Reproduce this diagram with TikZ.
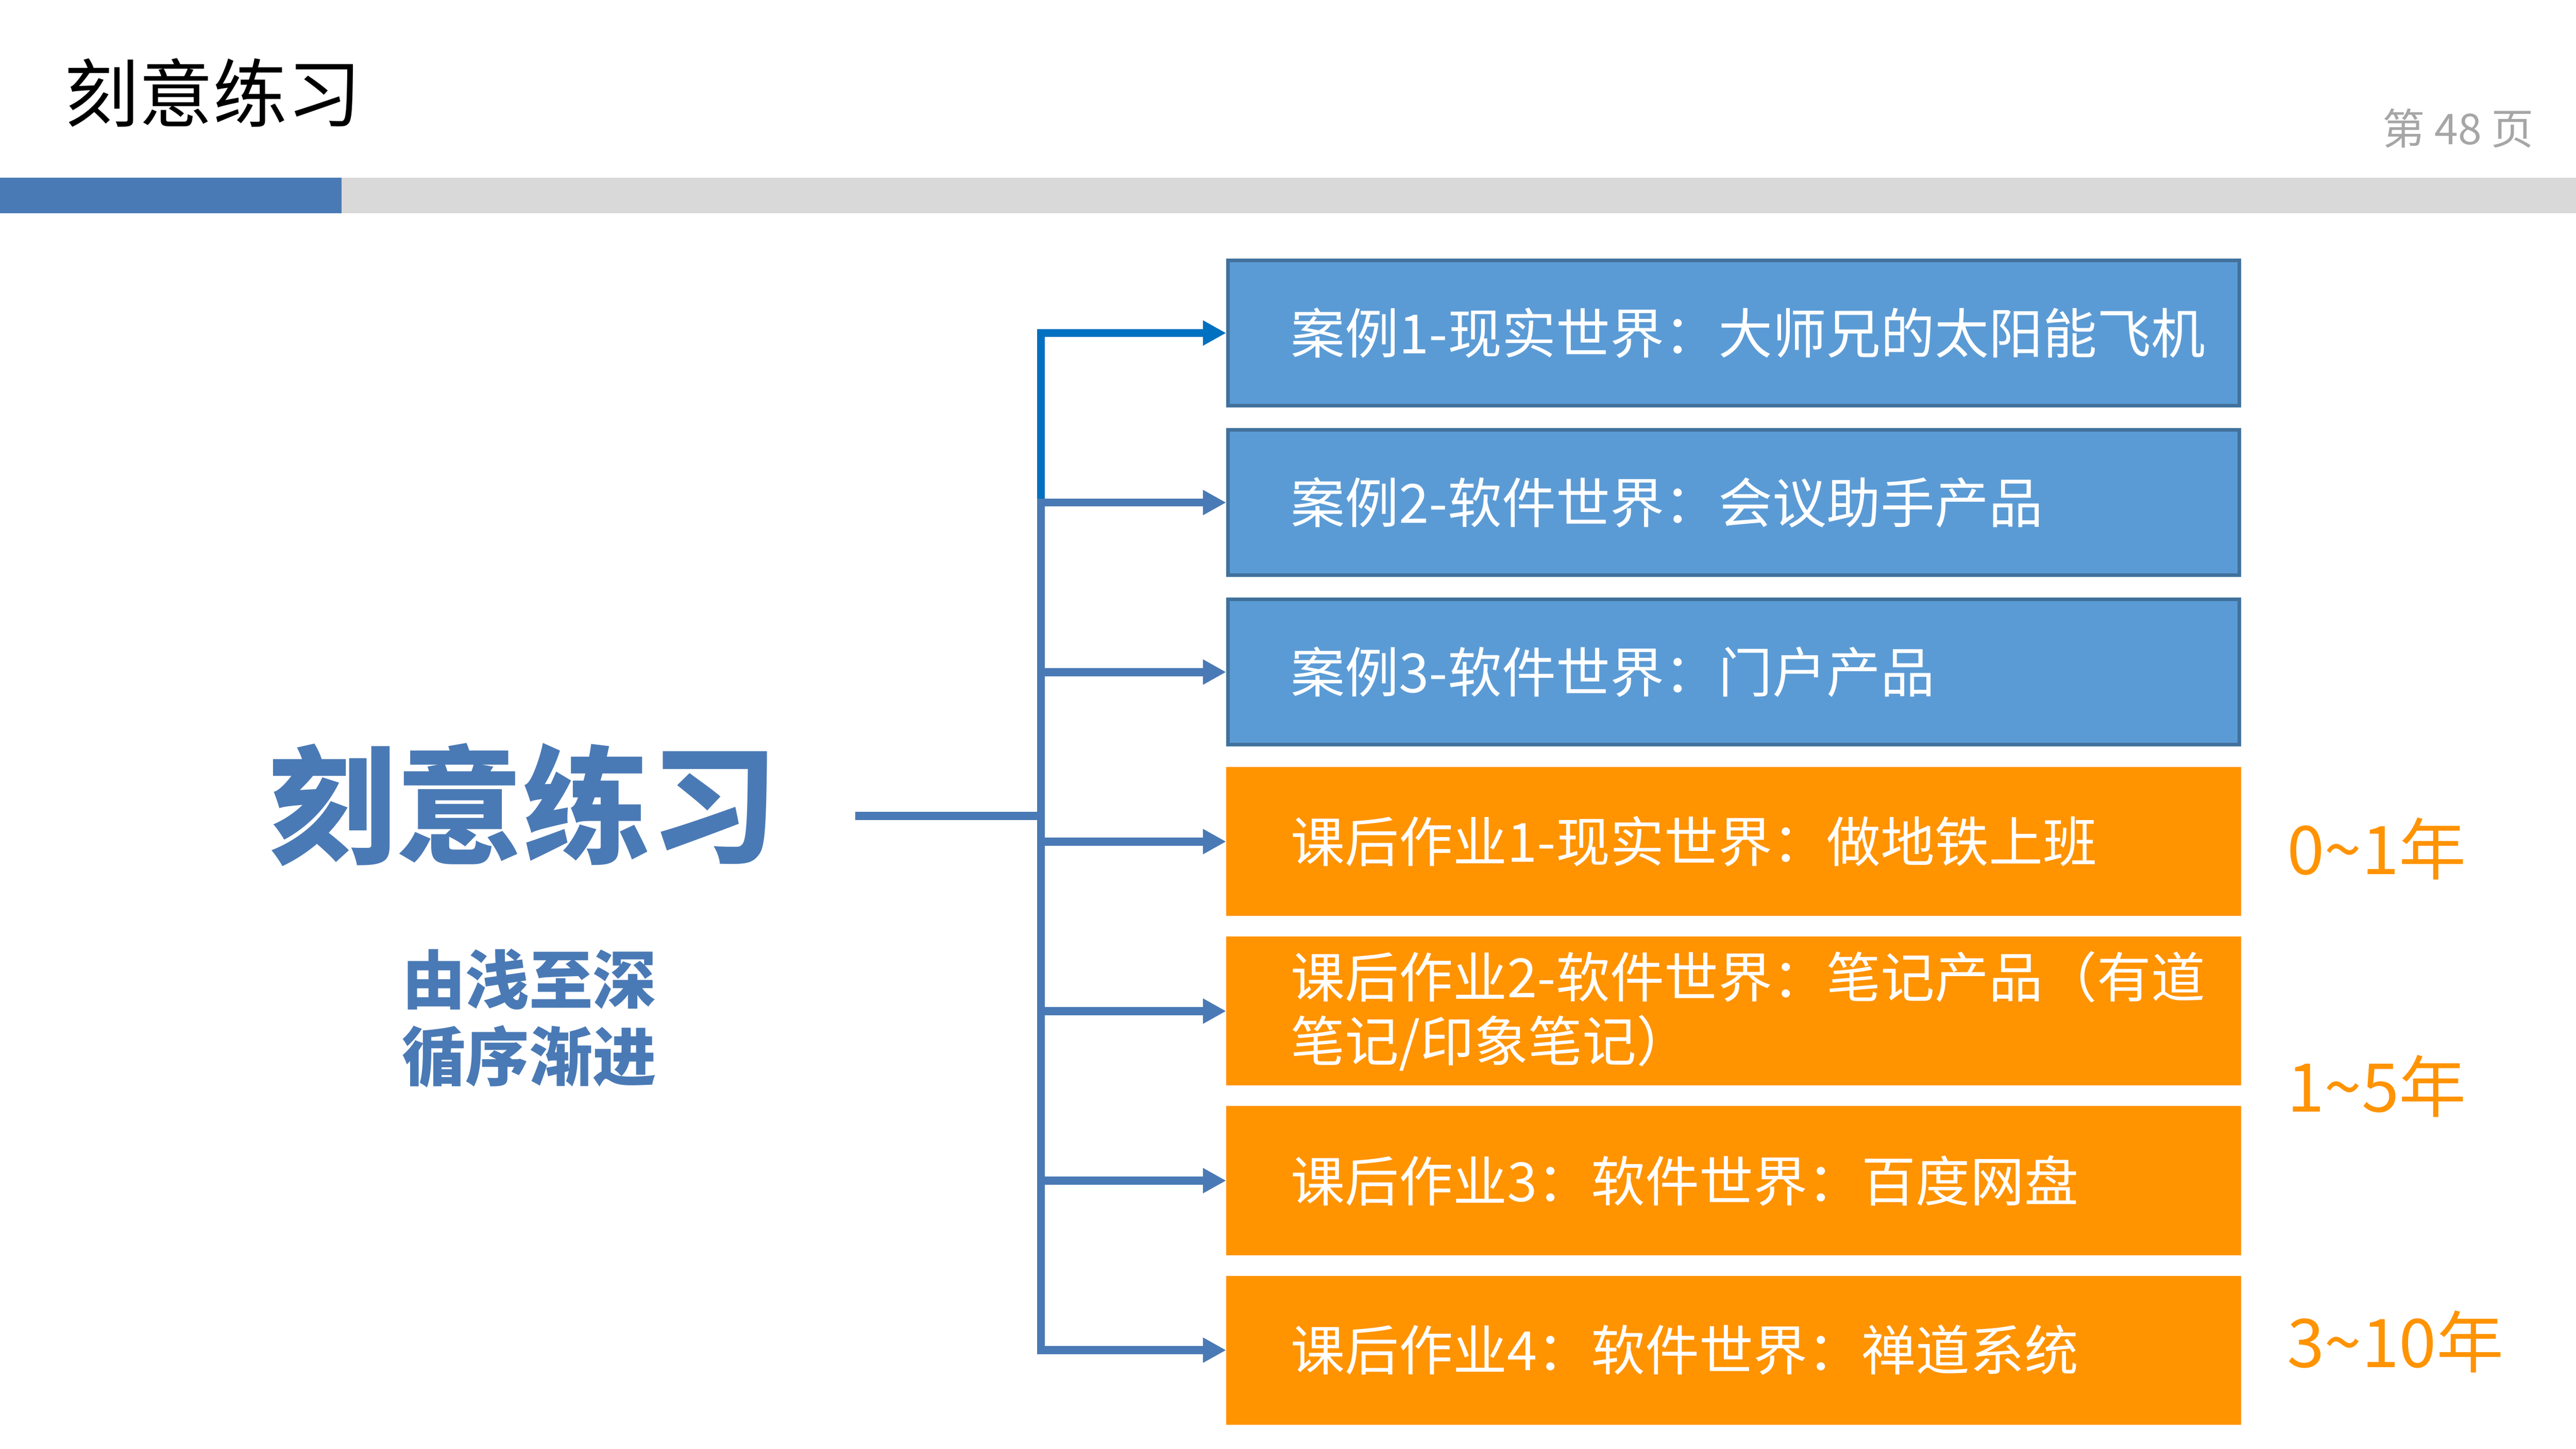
\documentclass[tikz,border=0pt]{standalone}
\usepackage{fontspec}
\setmainfont{Noto Sans CJK SC}
\usepackage{tikz}
\usetikzlibrary{arrows.meta,positioning}
\definecolor{caseblue}{HTML}{5B9BD5}
\definecolor{caseline}{HTML}{41719C}
\definecolor{taskorange}{HTML}{FF9300}
\definecolor{steelblue}{HTML}{4A7AB5}
\definecolor{brightblue}{HTML}{0070C0}
\definecolor{bargray}{HTML}{D9D9D9}
\definecolor{pagegray}{HTML}{A6A6A6}

\begin{document}
\begin{tikzpicture}[>={Triangle[length=0.46cm,width=0.47cm]},line width=0.16cm,
			node distance=0.41cm,
			case node/.style={draw=caseline,line width=0.07cm,fill=caseblue,text=white,anchor=north west,
				minimum height=2.89cm,text width=17.6cm,inner xsep=1.25cm,align=left,
				font=\fontsize{30.6pt}{36.4pt}\selectfont},
			task node/.style={case node,draw=taskorange,fill=taskorange},
			year node/.style={anchor=west,inner sep=0pt,text=taskorange,font=\fontsize{38pt}{44pt}\selectfont},
			conn/.style={->,draw=steelblue}]
			\useasboundingbox (0,0) rectangle (51.2,-28.8);
			\fill[white] (0,0) rectangle (51.2,-28.8);
			
			% header
			\node[anchor=west,inner sep=0pt,font=\fontsize{42pt}{48pt}\selectfont] (title) at (1.2,-1.84) {刻意练习};
			\node[anchor=east,inner sep=0pt,text=pagegray,font=\fontsize{24pt}{28pt}\selectfont] (page) at (50.44,-2.55) {第 48 页};
			\fill[bargray] (0,-3.53) rectangle (51.2,-4.24);
			\fill[steelblue] (0,-3.53) rectangle (6.79,-4.24);
			
			% left side
			\node[inner sep=0pt,text=steelblue,font=\bfseries\fontsize{72pt}{80pt}\selectfont] (practice) at (10.4,-16.0) {刻意练习};
			\node[inner sep=0pt,text=steelblue,align=center,font=\bfseries\fontsize{36pt}{43.5pt}\selectfont] (motto) at (10.52,-20.24) {由浅至深\\循序渐进};
			
			% boxes
			\node[case node] (b1) at (24.37,-5.14) {案例1-现实世界：大师兄的太阳能飞机};
			\node[case node] (b2) [below=of b1] {案例2-软件世界：会议助手产品};
			\node[case node] (b3) [below=of b2] {案例3-软件世界：门户产品};
			\node[task node] (b4) [below=of b3] {课后作业1-现实世界：做地铁上班};
			\node[task node] (b5) [below=of b4] {\mbox{课后作业2-软件世界：笔记产品（有道}\\笔记/印象笔记）};
			\node[task node] (b6) [below=of b5] {课后作业3：软件世界：百度网盘};
			\node[task node] (b7) [below=of b6] {课后作业4：软件世界：禅道系统};
			
			% years
			\node[year node] (y1) at (45.38,-16.87) {0\textasciitilde 1年};
			\node[year node] (y2) at (45.38,-21.59) {1\textasciitilde 5年};
			\node[year node] (y3) at (45.38,-26.67) {3\textasciitilde 10年};
			
			% connectors
			\coordinate (src) at (17.0,-16.22);
			\coordinate (hub) at (20.69,-16.22);
			\draw[conn,draw=brightblue] (src) -- (hub) |- (b1.west);
			\draw[conn] (src) -- (hub) |- (b2.west);
			\draw[conn] (src) -- (hub) |- (b3.west);
			\draw[conn] (src) -- (hub) |- (b4.west);
			\draw[conn] (src) -- (hub) |- (b5.west);
			\draw[conn] (src) -- (hub) |- (b6.west);
			\draw[conn] (src) -- (hub) |- (b7.west);
		\end{tikzpicture}
\end{document}
